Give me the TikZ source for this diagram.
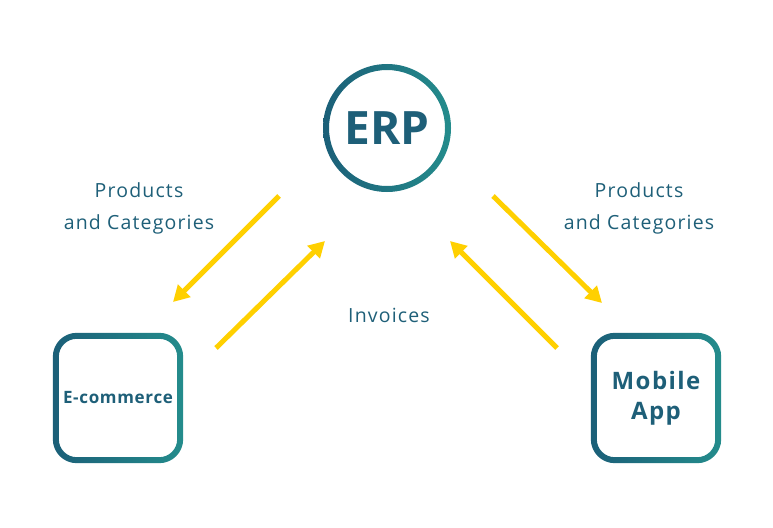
\documentclass[tikz,border=0pt]{standalone}
\usepackage{fontspec}
\setmainfont{Open Sans}
\newfontfamily\lblfont[LetterSpace=6]{Open Sans}
\newfontfamily\ecfont[LetterSpace=4]{Open Sans}
\newfontfamily\mafont[LetterSpace=6]{Open Sans}
\usetikzlibrary{arrows.meta}
\definecolor{tealA}{HTML}{1B5F78}
\definecolor{tealB}{HTML}{248C8C}
\definecolor{txt}{HTML}{1E5F78}
\definecolor{arr}{HTML}{FFD000}
\tikzset{
  lbl/.style={text=txt, font=\lblfont\fontsize{19.5}{32}\selectfont, align=center, inner sep=0},
  yarrow/.style={draw=arr, line width=5pt, -{Triangle[length=16pt,width=17pt]}},
  ring/.style={left color=tealA, right color=tealB, even odd rule, draw=none},
}
\begin{document}
\begin{tikzpicture}[x=1pt,y=-1pt]
\useasboundingbox (0,0) rectangle (773,527);
% ERP
\node[circle, minimum size=128pt, inner sep=0] (erp) at (387,128) {};
\path[ring] (erp.center) circle (64) circle (58);
\node[text=txt, font=\fontsize{46}{46}\selectfont\bfseries] at (erp.center) {ERP};
% E-commerce
\node[minimum width=130pt, minimum height=130pt, inner sep=0] (ec) at (118,398) {};
\path[ring] [rounded corners=24pt] (ec.north west) rectangle (ec.south east)
  [rounded corners=18pt] ([xshift=6pt,yshift=-6pt]ec.north west) rectangle ([xshift=-6pt,yshift=6pt]ec.south east);
\node[text=txt, font=\ecfont\bfseries\fontsize{17}{18}\selectfont] at (ec.center) {E-commerce};
% Mobile App
\node[minimum width=130pt, minimum height=130pt, inner sep=0] (ma) at (656,398) {};
\path[ring] [rounded corners=24pt] (ma.north west) rectangle (ma.south east)
  [rounded corners=18pt] ([xshift=6pt,yshift=-6pt]ma.north west) rectangle ([xshift=-6pt,yshift=6pt]ma.south east);
\node[text=txt, font=\mafont\bfseries\fontsize{24}{30}\selectfont, align=center] at (ma.center) {Mobile\\App};
% labels
\node[lbl] (pl) at (139,208) {Products\\and Categories};
\node[lbl] (pr) at (639,208) {Products\\and Categories};
\node[lbl] (inv) at (389,315) {Invoices};
% arrows
\coordinate (a1s) at (279,196); \coordinate (a1e) at (173,302);
\coordinate (a2s) at (216,348); \coordinate (a2e) at (325,241);
\coordinate (a3s) at (493,196); \coordinate (a3e) at (602,303);
\coordinate (a4s) at (557,348); \coordinate (a4e) at (450,241);
\draw[yarrow] (a1s) -- (a1e);
\draw[yarrow] (a2s) -- (a2e);
\draw[yarrow] (a3s) -- (a3e);
\draw[yarrow] (a4s) -- (a4e);
\end{tikzpicture}
\end{document}
